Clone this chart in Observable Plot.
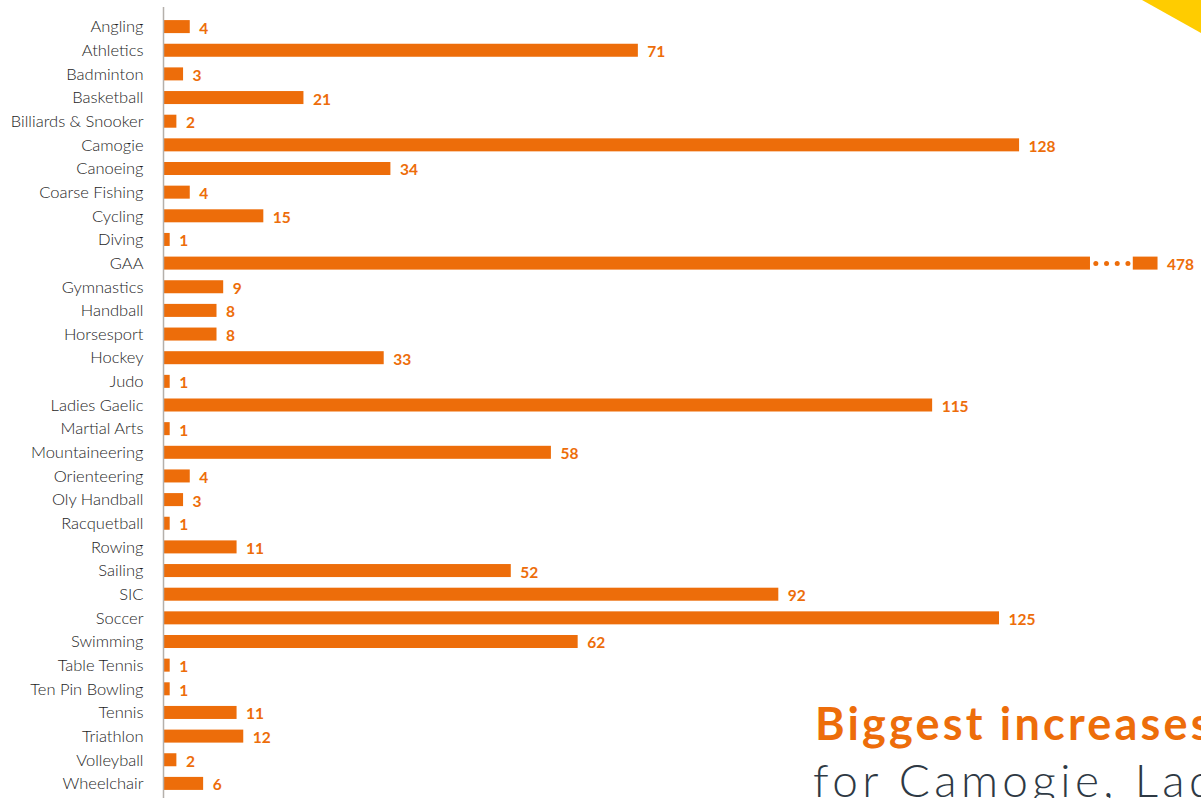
<!DOCTYPE html>
<html>
<head>
<meta charset="utf-8">
<script src="https://cdn.jsdelivr.net/npm/d3@7"></script>
<script src="https://cdn.jsdelivr.net/npm/@observablehq/plot@0.6"></script>
<style>
  html, body { margin: 0; padding: 0; background: #fff; }
  body { width: 1201px; height: 798px; overflow: hidden; position: relative; font-family: Lato, "Open Sans", sans-serif; }
  #chart { position: absolute; left: 0; top: 0; }
  .corner { position: absolute; right: 0; top: 0; width: 59px; height: 33px; background: #ffcc00; clip-path: polygon(0 0, 100% 0, 100% 100%); }
  .t1 { position: absolute; left: 815px; top: 701px; font: 700 45px Lato, sans-serif; color: #ed6d0a; white-space: nowrap; letter-spacing: 3.2px; line-height: 1; }
  .t2 { position: absolute; left: 813px; top: 757px; font: 300 46px Lato, sans-serif; color: #2e3944; white-space: nowrap; letter-spacing: 4.4px; line-height: 1; }
</style>
</head>
<body>
<div id="chart"></div>
<div class="corner"></div>
<div class="t1">Biggest increases</div>
<div class="t2">for Camogie, Ladies Gaelic</div>
<script>
const sports = ["Angling","Athletics","Badminton","Basketball","Billiards & Snooker","Camogie","Canoeing","Coarse Fishing","Cycling","Diving","GAA","Gymnastics","Handball","Horsesport","Hockey","Judo","Ladies Gaelic","Martial Arts","Mountaineering","Orienteering","Oly Handball","Racquetball","Rowing","Sailing","SIC","Soccer","Swimming","Table Tennis","Ten Pin Bowling","Tennis","Triathlon","Volleyball","Wheelchair"];
const counts = [4,71,3,21,2,128,34,4,15,1,478,9,8,8,33,1,115,1,58,4,3,1,11,52,92,125,62,1,1,11,12,2,6];

// broken-bar settings (data units) for the value that exceeds the axis
const breakAt = 138.6, resumeAt = 145, cappedEnd = 148.7, dotCount = 4;
const xMax = 155.2;

const orange = "#ed6d0a";
const rows = sports.map((s, i) => ({sport: s, value: counts[i]}));
const normal = rows.filter(d => d.value <= breakAt);
const broken = rows.filter(d => d.value > breakAt);
const segs = broken.flatMap(d => [
  {sport: d.sport, x1: 0, x2: breakAt},
  {sport: d.sport, x1: resumeAt, x2: cappedEnd}
]);
const dots = broken.flatMap(d => d3.range(dotCount).map(i => ({sport: d.sport, x: breakAt + (resumeAt - breakAt) * (i + 0.5) / dotCount})));
const labels = rows.map(d => ({sport: d.sport, value: d.value, pos: d.value > breakAt ? cappedEnd : d.value}));

const plot = Plot.plot({
  width: 1201,
  height: 798,
  marginLeft: 163,
  marginRight: 0,
  marginTop: 13,
  marginBottom: 1,
  style: {fontFamily: "Lato, sans-serif", background: "transparent"},
  x: {domain: [0, xMax], axis: null},
  y: {domain: sports, paddingInner: 0.45, paddingOuter: 0.3, round: false, label: null},
  marks: [
    Plot.axisY({tickSize: 0, tickPadding: 20, fontSize: 16.5, fontWeight: 300, color: "#1e1e1e", label: null}),
    Plot.barX(normal, {y: "sport", x: "value", fill: orange}),
    Plot.barX(segs, {y: "sport", x1: "x1", x2: "x2", fill: orange}),
    Plot.dot(dots, {y: "sport", x: "x", r: 2.5, fill: orange}),
    Plot.text(labels, {y: "sport", x: "pos", text: d => String(d.value), textAnchor: "start", dx: 9, dy: 1.5, fill: orange, fontWeight: 700, fontSize: 15.5}),
    Plot.ruleX([0], {stroke: "#b5b0ab", strokeWidth: 1.5, insetTop: -6, insetBottom: -2})
  ]
});
document.getElementById("chart").appendChild(plot);
</script>
</body>
</html>
